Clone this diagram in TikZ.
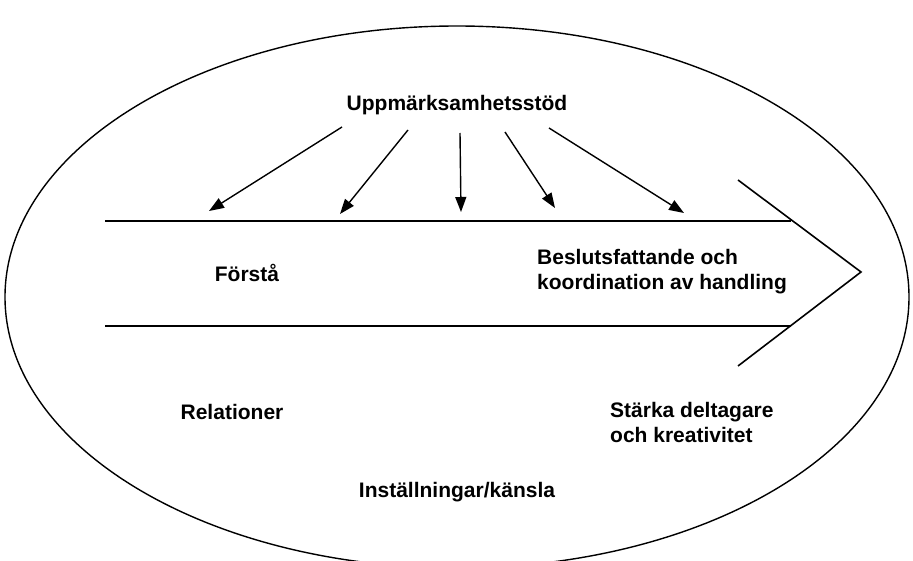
\documentclass[tikz,border=0pt]{standalone}
\usepackage{fontspec}
\setmainfont{Liberation Sans}
\usetikzlibrary{arrows.meta, positioning}

\tikzset{
    lbl/.style={font=\bfseries\fontsize{21}{25}\selectfont, align=left, inner sep=0pt},
    pil/.style={line width=1.4pt, -{Triangle[length=15pt,width=11pt]}},
    linje/.style={line width=1.6pt}
}

\begin{document}
\begin{tikzpicture}[x=1pt, y=1pt]
\useasboundingbox (0,0) rectangle (913,-561);
\clip (0,0) rectangle (913,-561);

% ellipse round everything
\draw[line width=1.4pt] (457,-297) ellipse (452 and 271);

% the big arrow
\coordinate (ovreV) at (105,-221);
\coordinate (ovreH) at (791,-221);
\coordinate (nedreV) at (105,-326);
\coordinate (nedreH) at (791,-326);
\coordinate (spetsA) at (738,-180);
\coordinate (spets) at (861,-272);
\coordinate (spetsB) at (738,-366);
\draw[linje] (ovreV) -- (ovreH);
\draw[linje] (nedreV) -- (nedreH);
\draw[linje] (spetsA) -- (spets) -- (spetsB);

% labels
\node[lbl] (stod) at (457,-105) {Uppmärksamhetsstöd};
\node[lbl] (forsta) at (247,-273) {Förstå};
\node[lbl, anchor=west] (beslut) at (537,-272) {Beslutsfattande och\\koordination av handling};
\node[lbl] (relation) at (232,-412) {Relationer};
\node[lbl, anchor=west] (starka) at (610,-422) {Stärka deltagare\\och kreativitet};
\node[lbl] (kansla) at (457,-492) {Inställningar/känsla};

% arrows from the support label
\foreach \i/\sx/\sy/\ex/\ey in {1/342/127/209/211, 2/408/130/340/214, 3/460/133/461/212, 4/505/132/555/208, 5/549/128/684/213} {
    \coordinate (fran\i) at (\sx,-\sy);
    \coordinate (till\i) at (\ex,-\ey);
    \draw[pil] (fran\i) -- (till\i);
}
\end{tikzpicture}
\end{document}
